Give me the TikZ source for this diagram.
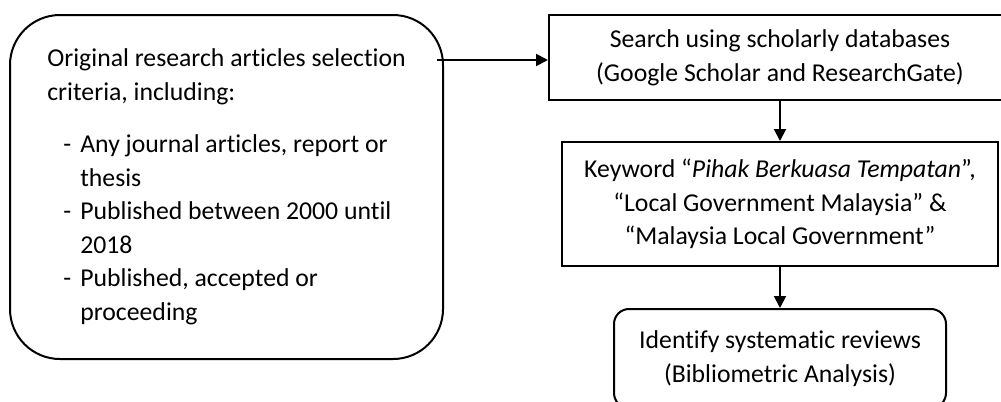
\documentclass[tikz,border=0pt]{standalone}
\usepackage{fontspec}
\setmainfont{Carlito}[Ligatures=NoCommon]
\usetikzlibrary{arrows.meta}
\tikzset{
  txt/.style={font=\fontsize{19.3}{25.2}\selectfont, text=black, align=center, inner sep=0pt},
  sqbox/.style={txt, draw=black, line width=1.5pt, rectangle},
  rbox/.style={txt, draw=black, line width=1.5pt, rectangle, rounded corners=#1},
  arr/.style={line width=1.5pt, -{Triangle[length=9pt,width=9pt]}}
}
\begin{document}
\begin{tikzpicture}[x=0.75pt,y=-0.75pt]
\useasboundingbox (0,0) rectangle (1001,401);
\node[rbox=37.5pt, minimum width=324.75pt, minimum height=258pt] (crit) at (226.5,187) {%
\begin{tabular}{@{}p{12pt}@{}p{12.75pt}@{}l@{}}
\multicolumn{3}{@{}l@{}}{Original research articles selection}\\
\multicolumn{3}{@{}l@{}}{criteria, including:}\\[13.9pt]
 & - & Any journal articles, report or\\
 & & thesis\\
 & - & Published between 2000 until\\
 & & 2018\\
 & - & Published, accepted or\\
 & & proceeding
\end{tabular}};
\node[sqbox, minimum width=346.5pt, minimum height=63.75pt] (search) at (780,57.5)
  {Search using scholarly databases\\(Google Scholar and ResearchGate)};
\node[sqbox, minimum width=327pt, minimum height=93pt] (kw) at (780,204)
  {Keyword “\textit{Pihak Berkuasa Tempatan}”,\\“Local Government Malaysia” \&\\“Malaysia Local Government”};
\node[rbox=11.25pt, minimum width=249pt, minimum height=74.25pt] (rev) at (780,358.5)
  {Identify systematic reviews\\(Bibliometric Analysis)};
\coordinate (start) at (437,60);
\draw[arr] (start) -- (start -| search.west);
\draw[arr] (search.south) -- (kw.north);
\draw[arr] (kw.south) -- (rev.north);
\end{tikzpicture}
\end{document}
